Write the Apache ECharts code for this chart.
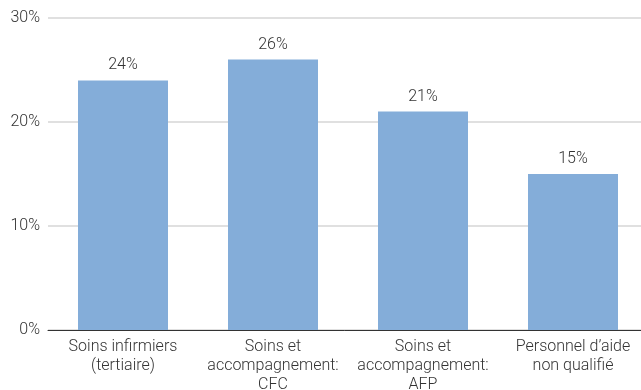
<!DOCTYPE html>
<html><head><meta charset="utf-8">
<script src="https://cdn.jsdelivr.net/npm/echarts@6/dist/echarts.min.js"></script>
<style>html,body{margin:0;padding:0;background:#fff}#c{width:641px;height:390px}</style>
</head><body><div id="c"></div>
<script>
const categories = ["Soins infirmiers\n(tertiaire)", "Soins et\naccompagnement:\nCFC", "Soins et\naccompagnement:\nAFP", "Personnel d’aide\nnon qualifié"];
const values = [24, 26, 21, 15];
const yTicks = [0, 10, 20, 30];
const chart = echarts.init(document.getElementById('c'), null, {renderer: 'canvas'});
chart.setOption({
  animation: false,
  grid: {left: 48, width: 600, top: 18, height: 312, outerBoundsMode: 'none', containLabel: false},
  xAxis: {
    type: 'category', data: categories,
    axisLine: {lineStyle: {color: '#333', width: 1}},
    axisTick: {show: false},
    axisLabel: {color: '#333', fontFamily: 'Roboto', fontWeight: 300, fontSize: 16, lineHeight: 19, margin: 7, interval: 0}
  },
  yAxis: {
    type: 'value', min: yTicks[0], max: yTicks[yTicks.length-1], interval: 10,
    axisLabel: {formatter: '{value}%', color: '#333', fontFamily: 'Roboto', fontWeight: 300, fontSize: 16, margin: 8},
    splitLine: {lineStyle: {color: '#d6d6d6', width: 1.5}},
    axisLine: {show: false}, axisTick: {show: false}
  },
  series: [{
    type: 'bar', data: values, barWidth: 90,
    itemStyle: {color: '#84ADD9'},
    label: {show: true, position: 'top', distance: 7, formatter: '{c}%', color: '#333', fontFamily: 'Roboto', fontWeight: 300, fontSize: 16}
  }]
});
</script></body></html>
